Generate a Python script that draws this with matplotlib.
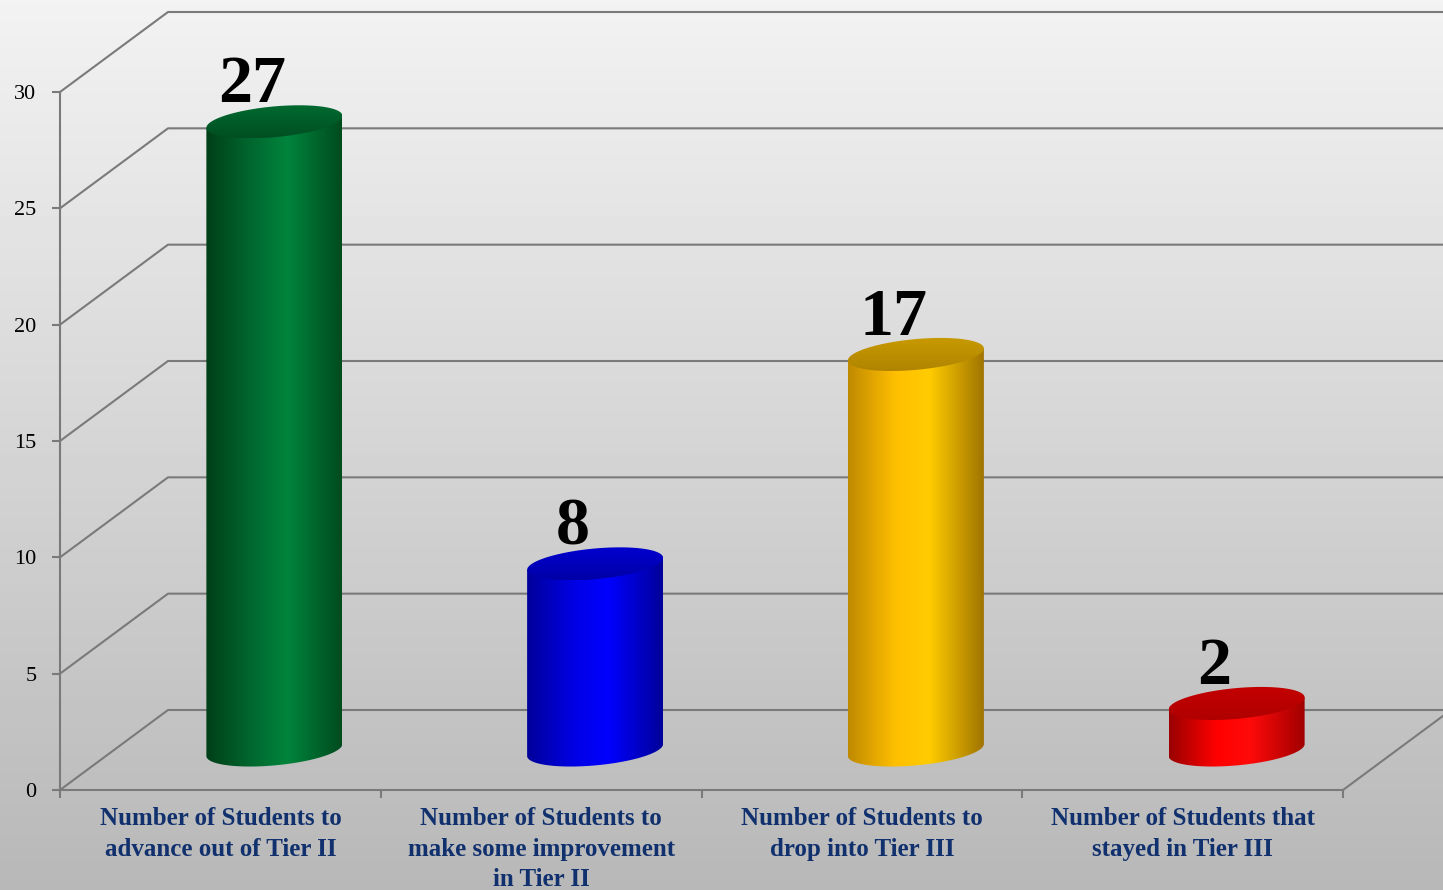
import numpy as np
import matplotlib
matplotlib.use("Agg")
import matplotlib.pyplot as plt
from matplotlib.path import Path
from matplotlib.patches import PathPatch
from matplotlib.colors import LinearSegmentedColormap

plt.rcParams["font.family"] = ["Liberation Serif", "DejaVu Serif"]

# Data
categories = [
    "Number of Students to\nadvance out of Tier II",
    "Number of Students to\nmake some improvement\nin Tier II",
    "Number of Students to\ndrop into Tier III",
    "Number of Students that\nstayed in Tier III",
]
values = [27, 8, 17, 2]
y_ticks = [0, 5, 10, 15, 20, 25, 30]

# side colours (dark, bright, dark) and top colours (back, front)
side_colors = [
    ["#003f18", "#006a30", "#00843c", "#004b1e"],
    ["#00009a", "#0000e6", "#0000ff", "#00009a"],
    ["#c08a00", "#ffbf00", "#ffcc00", "#a07400"],
    ["#9a0000", "#ff0000", "#ff0a0a", "#a00000"],
]
top_colors = [
    ["#004f22", "#006a30"],
    ["#0000a8", "#0000d0"],
    ["#b08400", "#c89a00"],
    ["#b00000", "#c40000"],
]

W, H = 1443, 890
fig = plt.figure(figsize=(W / 100, H / 100), dpi=100)

# background gradient
bg = fig.add_axes([0, 0, 1, 1], zorder=0)
bg.imshow(np.linspace(0.95, 0.72, 256)[:, None], cmap="gray", vmin=0, vmax=1,
          aspect="auto", extent=[0, 1, 0, 1])
bg.axis("off")

ax = fig.add_axes([60 / W, 100 / H, 1283 / W, 698 / H], zorder=1)
ax.patch.set_alpha(0)
n = len(values)
ymax = y_ticks[-1]
px_x = 1283 / n
px_y = 698 / ymax

# perspective depth
DX = 108 / px_x
DY = 80 / px_y
grid_kw = dict(color="#7a7a7a", lw=1.5, clip_on=False, zorder=1)
for v in y_ticks:
    ax.plot([0, DX, n + DX + 1], [v, v + DY, v + DY], **grid_kw)
ax.plot([n, n + DX], [0, DY], **grid_kw)

for s in ["top", "right"]:
    ax.spines[s].set_visible(False)
for s in ["left", "bottom"]:
    ax.spines[s].set_color("#7a7a7a")
    ax.spines[s].set_linewidth(1.5)

ax.set_yticks(y_ticks)
ax.set_xticks(range(n + 1))
ax.set_xticklabels([])
ax.tick_params(axis="y", length=6, width=1.5, color="#7a7a7a", pad=11,
               labelsize=16, labelcolor="black")
ax.tick_params(axis="x", length=6, width=1.5, color="#7a7a7a")

for i, lab in enumerate(categories):
    ax.text(i + 0.5, -0.75, lab, ha="center", va="top", fontsize=18,
            fontweight="bold", color="#10306e", linespacing=1.4)

# cylinders
a = 68 / px_x
b = 15.4 / px_y
e = 6 / px_y
b_ext = np.hypot(b, e)
t = np.linspace(0, 2 * np.pi, 200)
for i, v in enumerate(values):
    cx = i + 0.5 + DX / 2
    base = DY / 2
    top = base + v

    tb = np.linspace(np.pi, 2 * np.pi, 100)
    bx = cx + a * np.cos(tb)
    by = base + b * np.sin(tb) + e * np.cos(tb)
    verts = [(cx - a, top - e), (cx - a, base - e)]
    verts += list(zip(bx, by))
    verts += [(cx + a, base + e), (cx + a, top + e), (cx - a, top - e)]
    body = PathPatch(Path(verts, closed=True), fc="none", ec="none")
    ax.add_patch(body)
    cmap = LinearSegmentedColormap.from_list(
        "side", list(zip([0, 0.35, 0.6, 1], side_colors[i])))
    im = ax.imshow(np.linspace(0, 1, 256)[None, :], cmap=cmap, aspect="auto",
                   extent=[cx - a, cx + a, base - b_ext - 0.5, top + b_ext],
                   zorder=3, interpolation="bilinear")
    im.set_clip_path(body)

    ex = cx + a * np.cos(t)
    ey = top + b * np.sin(t) + e * np.cos(t)
    cap = PathPatch(Path(list(zip(ex, ey)), closed=True), fc="none", ec="none")
    ax.add_patch(cap)
    cmap_t = LinearSegmentedColormap.from_list("top", top_colors[i][::-1])
    im2 = ax.imshow(np.linspace(0, 1, 64)[:, None], cmap=cmap_t, aspect="auto",
                    extent=[cx - a, cx + a, top - b_ext, top + b_ext],
                    origin="upper", zorder=4, interpolation="bilinear")
    im2.set_clip_path(cap)

    ax.text(cx - 22 / px_x, top + b_ext + 3 / px_y, str(v), ha="center",
            va="baseline", fontsize=49, fontweight="bold", color="black", zorder=5)

ax.set_xlim(0, n)
ax.set_ylim(0, ymax)

fig.savefig("out.png", dpi=100)
